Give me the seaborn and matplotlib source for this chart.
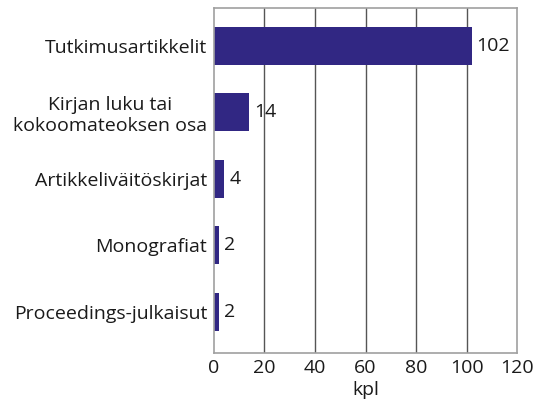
import numpy as np
import pandas as pd
import matplotlib.pyplot as plt
import seaborn as sns

# data
categories = [
    "Tutkimusartikkelit",
    "Kirjan luku tai\nkokoomateoksen osa",
    "Artikkeliväitöskirjat",
    "Monografiat",
    "Proceedings-julkaisut",
]
counts = [102, 14, 4, 2, 2]
x_ticks = [0, 20, 40, 60, 80, 100, 120]

bar_color = "#312783"

sns.set_style("white")
plt.rcParams["font.family"] = ["Open Sans", "DejaVu Sans"]

df = pd.DataFrame({"kategoria": categories, "kpl": counts})

fig = plt.figure(figsize=(5.37, 4.0), dpi=100)
ax = fig.add_axes([0.3985, 0.1175, 0.5643, 0.8625])

ax.set_axisbelow(True)
for t in x_ticks[1:-1]:
    ax.axvline(t, color="#555555", linewidth=1.0, zorder=0)

sns.barplot(data=df, x="kpl", y="kategoria", orient="h", color=bar_color,
            width=0.57, saturation=1, linewidth=0, ax=ax, zorder=2)

fs = 14
for i, v in enumerate(counts):
    ax.text(v + 2.0, i, str(v), va="center", ha="left", fontsize=fs, color="#1a1a1a")

ax.set_xlim(0, 120)
ax.set_ylim(4.62, -0.57)
ax.set_xticks(x_ticks)
ax.tick_params(axis="x", labelsize=fs, length=0, pad=4, colors="#1a1a1a")
ax.tick_params(axis="y", labelsize=fs, length=0, pad=5, colors="#1a1a1a")
for lbl in ax.get_yticklabels():
    lbl.set_multialignment("center")
ax.set_xlabel("kpl", fontsize=fs, labelpad=3, color="#1a1a1a")
ax.set_ylabel("")

for s in ax.spines.values():
    s.set_visible(True)
    s.set_color("#a0a0a0")
    s.set_linewidth(1.2)

fig.savefig("out.png", dpi=100)
